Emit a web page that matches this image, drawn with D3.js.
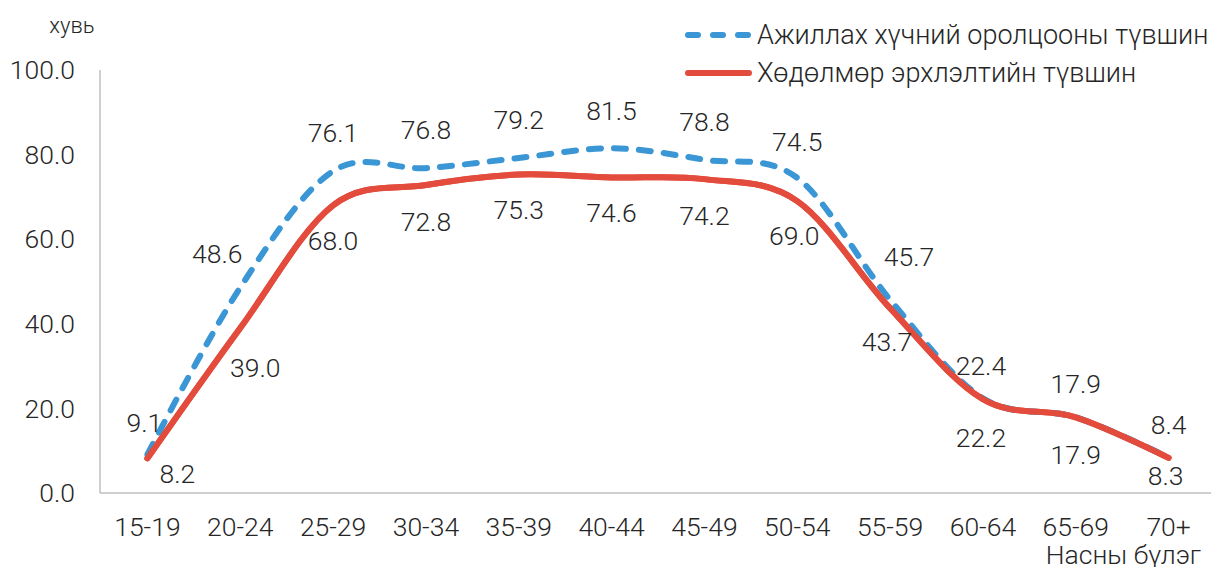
<!DOCTYPE html>
<html><head><meta charset="utf-8">
<script src="https://cdn.jsdelivr.net/npm/d3@7"></script>
<style>
html,body{margin:0;padding:0;background:#fff;}
svg{display:block;font-family:Roboto,"Noto Sans",sans-serif;font-weight:300;}
</style></head>
<body><svg id="chart" width="1211" height="567"></svg>
<script>
const categories = ["15-19","20-24","25-29","30-34","35-39","40-44","45-49","50-54","55-59","60-64","65-69","70+"];
const participation = [9.1,48.6,76.1,76.8,79.2,81.5,78.8,74.5,45.7,22.4,17.9,8.4];
const employment = [8.2,39.0,68.0,72.8,75.3,74.6,74.2,69.0,43.7,22.2,17.9,8.3];
const yTicks = [0,20,40,60,80,100];
const seriesNames = ["Ажиллах хүчний оролцооны түвшин","Хөдөлмөр эрхлэлтийн түвшин"];
const yUnit = "хувь";
const xTitle = "Насны бүлэг";

const svg = d3.select("#chart");
const x = d3.scalePoint().domain(categories).range([101,1215]).padding(0.5);
const y = d3.scaleLinear().domain([0,100]).range([493,70]);
const txt = "#262626", axisCol = "#bfbfbf";
const blue = "#3a96d4", red = "#e34b3c";
const fs = 26.5;

// axes lines
svg.append("line").attr("x1",100).attr("x2",100).attr("y1",y(100)).attr("y2",y(0)).attr("stroke",axisCol).attr("stroke-width",1.5);
svg.append("line").attr("x1",100).attr("x2",1211).attr("y1",y(0)).attr("y2",y(0)).attr("stroke",axisCol).attr("stroke-width",1.5);

// y tick labels
svg.append("g").selectAll("text").data(yTicks).join("text")
  .attr("x",75).attr("y",d=>y(d)).attr("dy","0.35em").attr("text-anchor","end")
  .attr("font-size",fs).attr("fill",txt).text(d=>d.toFixed(1));
svg.append("text").attr("x",72).attr("y",25).attr("dy","0.35em").attr("text-anchor","middle")
  .attr("font-size",22).attr("fill",txt).text(yUnit);

// x tick labels
svg.append("g").selectAll("text").data(categories).join("text")
  .attr("x",d=>x(d)).attr("y",527).attr("dy","0.35em").attr("text-anchor","middle")
  .attr("font-size",fs).attr("fill",txt).text(d=>d);
svg.append("text").attr("x",1201).attr("y",555).attr("dy","0.35em").attr("text-anchor","end")
  .attr("font-size",fs).attr("fill",txt).text(xTitle);

const line = d3.line().x((d,i)=>x(categories[i])).y(d=>y(d)).curve(d3.curveCardinal.tension(0));

svg.append("path").datum(employment).attr("d",line).attr("fill","none")
  .attr("stroke",red).attr("stroke-width",6).attr("stroke-linecap","round").attr("stroke-linejoin","round");
svg.append("path").datum(participation).attr("d",line).attr("fill","none")
  .attr("stroke",blue).attr("stroke-width",6).attr("stroke-dasharray","12,13").attr("stroke-linecap","round");
svg.append("path").datum(employment).attr("d",line).attr("fill","none")
  .attr("stroke",red).attr("stroke-width",6).attr("stroke-linecap","round").attr("stroke-linejoin","round");

// data labels
const blueDx = [-3,-23,0,0,0,0,0,0,19,-2,0,0];
const blueDy = [-32,-34,-38,-38,-38,-38,-38,-36,-43,-33,-34,-33];
const redDx = [30,15,0,0,0,0,0,-3,-3,-2,0,-3];
const redDy = [15,40,35,37,35,35,37,35,34,39,37,18];
svg.append("g").selectAll("text").data(participation).join("text")
  .attr("x",(d,i)=>x(categories[i])+blueDx[i]).attr("y",(d,i)=>y(d)+blueDy[i]).attr("dy","0.35em")
  .attr("text-anchor","middle").attr("font-size",fs).attr("fill",txt).text(d=>d.toFixed(1));
svg.append("g").selectAll("text").data(employment).join("text")
  .attr("x",(d,i)=>x(categories[i])+redDx[i]).attr("y",(d,i)=>y(d)+redDy[i]).attr("dy","0.35em")
  .attr("text-anchor","middle").attr("font-size",fs).attr("fill",txt).text(d=>d.toFixed(1));

// legend
const lg = svg.append("g");
[[blue,"10,15"],[red,null]].forEach((s,i)=>{
  const yy = 35 + i*38;
  const l = lg.append("line").attr("x1",688).attr("x2",749).attr("y1",yy).attr("y2",yy)
    .attr("stroke",s[0]).attr("stroke-width",6).attr("stroke-linecap","round");
  if(s[1]) l.attr("stroke-dasharray",s[1]);
  lg.append("text").attr("x",757).attr("y",yy).attr("dy","0.35em").attr("font-size",27)
    .attr("fill",txt).text(seriesNames[i]);
});
</script></body></html>
